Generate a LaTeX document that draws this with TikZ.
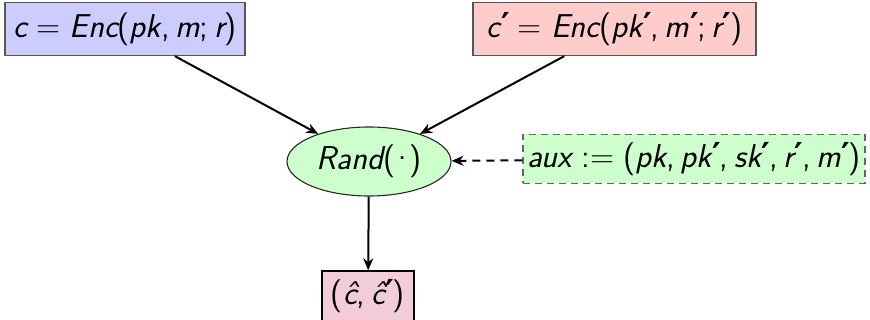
\documentclass[tikz,border=0pt]{standalone}
\usepackage{fontspec}
\newfontfamily\primefont{DejaVu Sans}
\usetikzlibrary{arrows.meta,shapes.geometric}
\definecolor{bordergray}{HTML}{555555}
\definecolor{dashgray}{HTML}{666666}
\newcommand{\vr}[1]{{\slshape #1}}
\newcommand{\rl}[1]{\hspace{0.28em}#1\hspace{0.28em}}
\newcommand{\cm}{,\hspace{0.17em}}
\newcommand{\sm}{;\hspace{0.17em}}
\newcommand{\pr}{\kern0.02em{\primefont\bfseries\fontsize{33}{37}\selectfont\raisebox{0.02em}{′}}\kern-0.04em}
\tikzset{
  every node/.style={font=\fontsize{33}{39}\selectfont\sffamily},
  inbox/.style={draw=bordergray, line width=1.3pt, rectangle, inner sep=0pt, minimum height=53pt},
  auxbox/.style={draw=dashgray, line width=1.3pt, dash pattern=on 7pt off 5pt, rectangle, inner sep=0pt, minimum height=49pt, fill=green!20},
  randnode/.style={draw=black!85, line width=1.1pt, ellipse, fill=green!20, minimum width=164pt, minimum height=69pt, inner sep=0pt},
  outbox/.style={draw=black, line width=1.3pt, rectangle, inner sep=0pt, minimum height=50pt, minimum width=92pt, fill=purple!20},
  flow/.style={line width=2pt, -{Stealth[length=12pt,width=10pt]}},
  auxflow/.style={line width=2pt, dash pattern=on 8pt off 6pt, -{Stealth[length=12pt,width=10pt]}}
}
\begin{document}
\begin{tikzpicture}[x=1pt,y=-1pt]
\useasboundingbox (0,0) rectangle (870,320);
\node[inbox, fill=blue!20, minimum width=240pt] (c) at (125,29)
  {\vr{c}\rl{=}\vr{Enc}(\vr{pk}\cm\vr{m}\sm\vr{r})};
\node[inbox, fill=red!20, minimum width=283pt] (cp) at (614.5,29)
  {\vr{c}\pr\rl{=}\vr{Enc}(\vr{pk}\pr\cm\vr{m}\pr\sm\vr{r}\pr)};
\node[randnode] (rand) at (369,161.5) {\vr{Rand}(\kern-0.16em·\kern-0.16em)};
\node[auxbox, minimum width=342pt] (aux) at (694,159)
  {\vr{aux}\rl{:=}(\vr{pk}\cm\vr{pk}\pr\cm\vr{sk}\pr\cm\vr{r}\pr\cm\vr{m}\pr)};
\node[outbox] (out) at (368,296) {(\vr{\^{c}}\cm\vr{\^{c}}\pr)};
\draw[flow] (c) -- (rand);
\draw[flow] (cp) -- (rand);
\draw[auxflow] (aux) -- (rand);
\draw[flow] (rand) -- (out);
\end{tikzpicture}
\end{document}
